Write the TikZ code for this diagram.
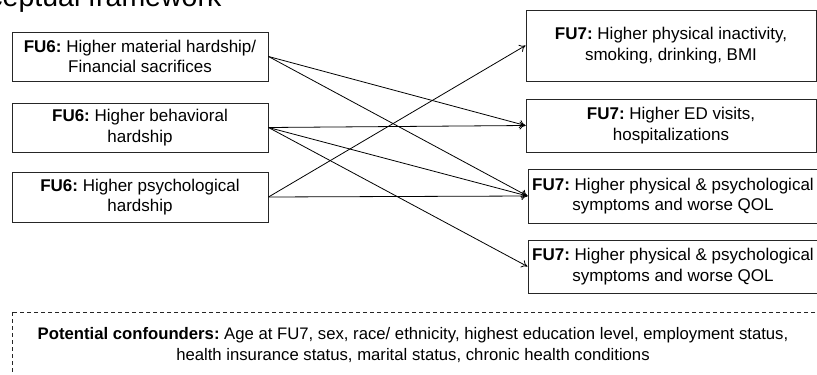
\documentclass[tikz,border=0pt]{standalone}
\usepackage{fontspec}
\setmainfont{Liberation Sans}
\usetikzlibrary{arrows.meta}
\frenchspacing
\begin{document}
\begin{tikzpicture}[x=1pt,y=-1pt,
  box/.style={draw=black!85, line width=1pt, align=center, inner sep=0pt,
    font=\fontsize{17}{20.5}\selectfont},
  link/.style={-{To[length=6pt,width=8pt]}, line width=0.8pt},
  conf/.style={draw=black!85, line width=0.9pt, dash pattern=on 4pt off 3pt}]
\useasboundingbox (0,0) rectangle (817,375);
\node[anchor=base west, inner sep=0pt, font=\fontsize{28.5}{30}\selectfont] (title) at (-64,6.5) {Conceptual framework};

\node[box, minimum width=256pt, minimum height=49pt] (b1) at (140,56.5) {\textbf{FU6:} Higher material hardship/\\Financial sacrifices};
\node[box, minimum width=256pt, minimum height=49pt] (b2) at (140,127.5) {\textbf{FU6:} Higher behavioral\\hardship};
\node[box, minimum width=256pt, minimum height=50pt] (b3) at (140,197) {\textbf{FU6:} Higher psychological\\hardship};

\node[box, minimum width=290pt, minimum height=71pt] (r1) at (671,45.5) {\textbf{FU7:} Higher physical inactivity,\\smoking, drinking, BMI};
\node[box, minimum width=290pt, minimum height=53pt] (r2) at (671,125.5) {\textbf{FU7:} Higher ED visits,\\hospitalizations};
\node[box, minimum width=290pt, minimum height=54pt] (r3) at (673,196) {\textbf{FU7:} Higher physical \& psychological\\symptoms and worse QOL};
\node[box, minimum width=290pt, minimum height=53pt] (r4) at (673,266.5) {\textbf{FU7:} Higher physical \& psychological\\symptoms and worse QOL};

\draw[link] (b1.east) -- (r2.west);
\draw[link] (b1.east) -- (r3.west);
\draw[link] (b2.east) -- (r2.west);
\draw[link] (b2.east) -- (r3.west);
\draw[link] (b2.east) -- (r4.west);
\draw[link] (b3.east) -- (r1.west);
\draw[link] (b3.east) -- (r3.west);

\draw[conf] (12,312) rectangle (840,400);
\node[align=center, inner sep=0pt, font=\fontsize{16.7}{20.5}\selectfont] (conftext) at (413,345)
  {\textbf{Potential confounders:} Age at FU7, sex, race/ ethnicity, highest education level, employment status,\\health insurance status, marital status, chronic health conditions};
\end{tikzpicture}
\end{document}
